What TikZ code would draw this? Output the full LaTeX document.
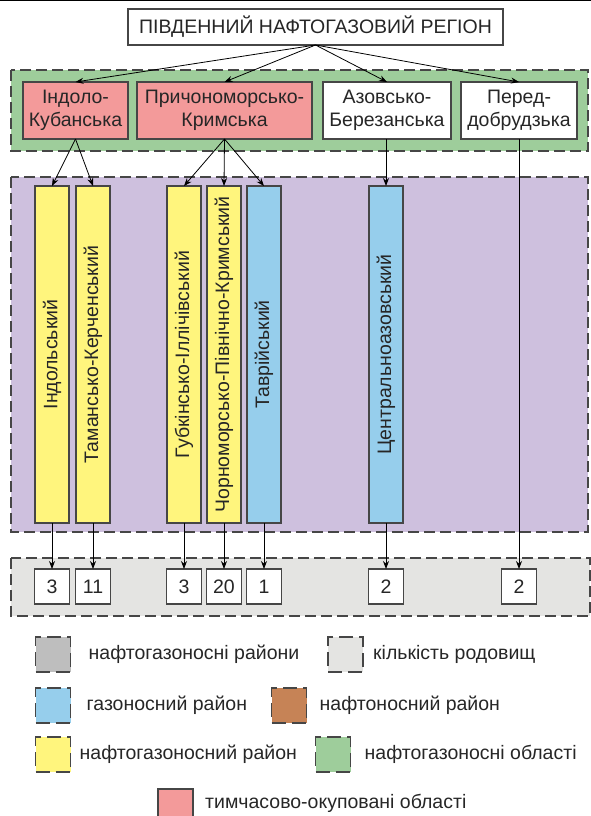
\documentclass[tikz,border=0pt]{standalone}
\usepackage{fontspec}
\setmainfont{Liberation Sans}
\usetikzlibrary{arrows.meta, positioning}
\definecolor{bandgreen}{RGB}{158,205,155}
\definecolor{bandviolet}{RGB}{206,192,222}
\definecolor{bandgray}{RGB}{228,228,226}
\definecolor{oblpink}{RGB}{243,154,154}
\definecolor{rayyellow}{RGB}{255,245,125}
\definecolor{rayblue}{RGB}{150,206,236}
\definecolor{legbrown}{RGB}{198,131,86}
\definecolor{leggray}{RGB}{190,190,190}
\definecolor{edgegray}{RGB}{70,70,70}

\begin{document}
\begin{tikzpicture}[x=1pt, y=-1pt, font=\fontsize{19.5}{23}\selectfont, text=black!85,
		band/.style={draw=edgegray, line width=1.2pt, dash pattern=on 11pt off 5pt},
		obl/.style={draw=edgegray, line width=1.1pt, minimum height=57pt,
		            inner sep=0pt, outer sep=0pt, align=center},
		ray/.style={draw=edgegray, line width=1.1pt, minimum width=34pt,
		            minimum height=337pt, inner sep=0pt, outer sep=0pt},
		vtxt/.style={rotate=90, inner sep=0pt},
		num/.style={draw=edgegray, line width=1.1pt, fill=white, outer sep=0pt,
		            minimum width=35pt, minimum height=35pt, inner sep=0pt},
		swatch/.style={draw=edgegray, line width=1.1pt, dash pattern=on 14pt off 6pt,
		            minimum size=35pt, inner sep=0pt, outer sep=0pt},
		legtxt/.style={anchor=west, inner sep=0pt},
		arr/.style={-{Stealth[length=8pt, width=6pt]}, line width=0.8pt, black}]
		\useasboundingbox (0,0) rectangle (591,816);
		\draw[line width=3pt] (0,0) -- (591,0);
		% bands
		\draw[band, fill=bandgreen] (11,70) rectangle (588,151);
		\draw[band, fill=bandviolet] (11,177) rectangle (588,532);
		\draw[band, fill=bandgray] (11,558) rectangle (590,616);
		% region and oblasti
		\node[draw=edgegray, line width=1.1pt, fill=white, minimum width=375pt,
		      minimum height=36pt, inner sep=0pt, outer sep=0pt] (reg) at (315.5,27) {ПІВДЕННИЙ НАФТОГАЗОВИЙ РЕГІОН};
		\node[obl, fill=oblpink, minimum width=105pt] (indk) at (75.5,110.5) {Індоло-\\Кубанська};
		\node[obl, fill=oblpink, minimum width=175pt, right=9pt of indk] (prk) {Причономорсько-\\Кримська};
		\node[obl, fill=white, minimum width=128pt, right=11pt of prk] (azb) {Азовсько-\\Березанська};
		\node[obl, fill=white, minimum width=116pt, right=10pt of azb] (pdb) {Перед-\\добрудзька};
		% rayony
		\node[ray, fill=rayyellow, label={[vtxt]center:Індольський}] (ind) at (52,354.5) {};
		\node[ray, fill=rayyellow, right=7pt of ind, label={[vtxt]center:Тамансько-Керченський}] (tmk) {};
		\node[ray, fill=rayyellow, label={[vtxt]center:Губкінсько-Іллічівський}] (gbi) at (184,354.5) {};
		\node[ray, fill=rayyellow, right=6pt of gbi, label={[vtxt]center:Чорноморсько-Північно-Кримський}] (chpk) {};
		\node[ray, fill=rayblue, right=6pt of chpk, label={[vtxt]center:Таврійський}] (tvr) {};
		\node[ray, fill=rayblue, label={[vtxt]center:Центральноазовський}] (cna) at (386,354.5) {};
		% rodovyshcha
		\node[num, below=46pt of ind] (n1) {3};
		\node[num, below=46pt of tmk] (n2) {11};
		\node[num, below=46pt of gbi] (n3) {3};
		\node[num, below=46pt of chpk] (n4) {20};
		\node[num, below=46pt of tvr] (n5) {1};
		\node[num, below=46pt of cna] (n6) {2};
		\node[num] (n7) at (519,586.5) {2};
		% arrows
		\foreach \t in {indk,prk,azb,pdb}
			\draw[arr] (reg.south) -- (\t.north);
		\draw[arr] (indk.south) -- (ind.north);
		\draw[arr] (indk.south) -- (tmk.north);
		\draw[arr] (prk.south) -- (gbi.north);
		\draw[arr] (prk.south) -- (chpk.north);
		\draw[arr] (prk.south) -- (tvr.north);
		\draw[arr] (cna.north |- azb.south) -- (cna.north);
		\draw[arr] (n7.north |- pdb.south) -- (n7.north);
		\draw[arr] (ind) -- (n1);
		\draw[arr] (tmk) -- (n2);
		\draw[arr] (gbi) -- (n3);
		\draw[arr] (chpk) -- (n4);
		\draw[arr] (tvr) -- (n5);
		\draw[arr] (cna) -- (n6);
		% legend
		\node[swatch, fill=leggray] (lg1) at (53,654.5) {};
		\node[legtxt, right=18pt of lg1] (lt1) {нафтогазоносні райони};
		\node[swatch, fill=bandgray] (lg2) at (345.5,654.5) {};
		\node[legtxt, right=10pt of lg2] (lt2) {кількість родовищ};
		\node[swatch, fill=rayblue] (lg3) at (53,705.5) {};
		\node[legtxt, right=16pt of lg3] (lt3) {газоносний район};
		\node[swatch, fill=legbrown] (lg4) at (289,705.5) {};
		\node[legtxt, right=13pt of lg4] (lt4) {нафтоносний район};
		\node[swatch, fill=rayyellow] (lg5) at (53,754.5) {};
		\node[legtxt, right=9pt of lg5] (lt5) {нафтогазоносний район};
		\node[swatch, fill=bandgreen] (lg6) at (333,754.5) {};
		\node[legtxt, right=14pt of lg6] (lt6) {нафтогазоносні області};
		\node[draw=edgegray, line width=1.1pt, fill=oblpink, minimum size=35pt, inner sep=0pt] (lg7) at (175.5,806.5) {};
		\node[legtxt] (lt7) at (205,803) {тимчасово-окуповані області};
	\end{tikzpicture}
\end{document}
